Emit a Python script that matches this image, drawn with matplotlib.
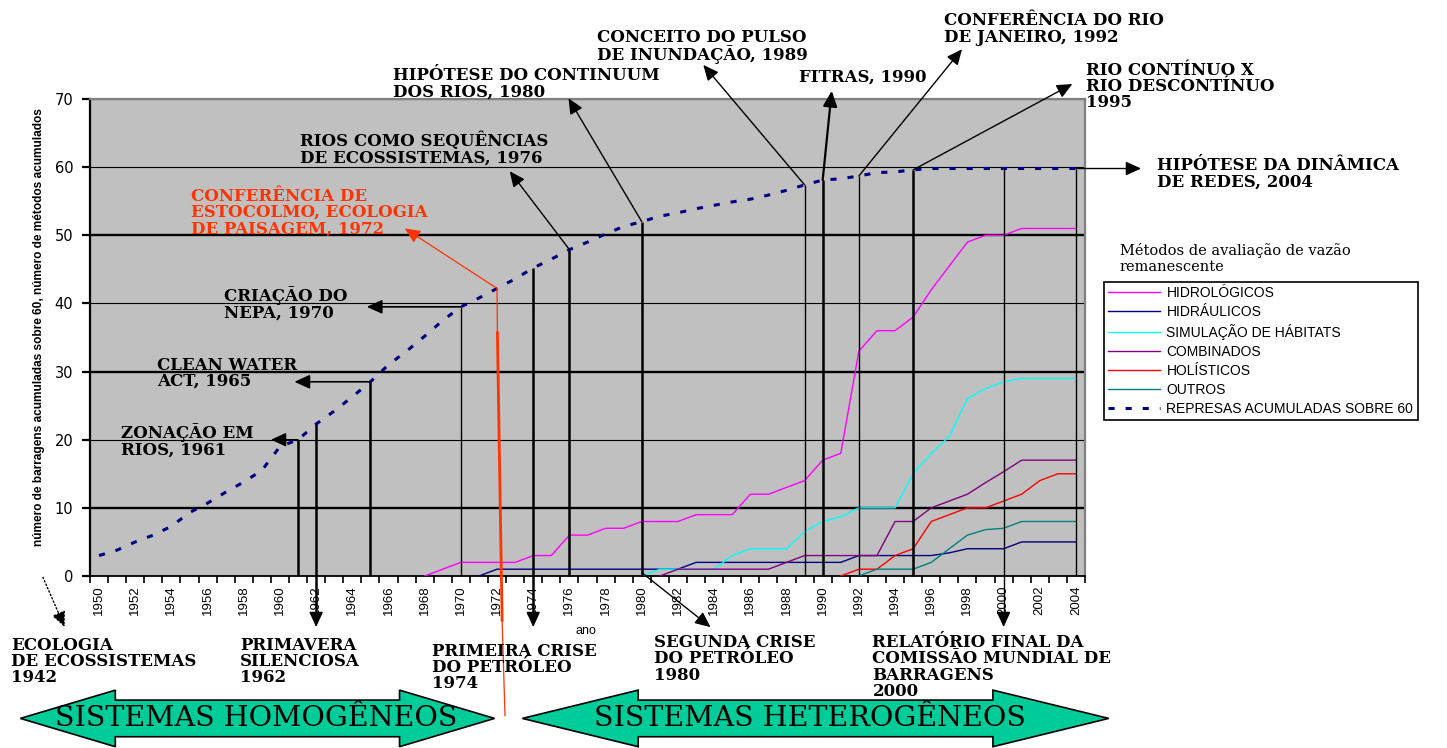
import numpy as np
import matplotlib
matplotlib.use('Agg')
import matplotlib.pyplot as plt
from matplotlib.patches import Polygon

# ---------------- data ----------------
years = list(range(1950, 2005))

dam_label = 'REPRESAS ACUMULADAS SOBRE 60'
dam_cum = [3.0, 3.8, 5.0, 6.0, 7.3, 9.3, 10.7, 12.3, 13.8, 15.5,
           19.0, 20.0, 22.3, 24.2, 26.3, 28.5, 31.0, 33.0, 35.2, 37.5,
           39.5, 40.8, 42.2, 43.6, 45.2, 46.5, 47.9, 49.0, 50.2, 51.3,
           52.0, 52.8, 53.3, 53.9, 54.4, 54.9, 55.3, 55.9, 56.6, 57.4,
           58.1, 58.3, 58.7, 59.2, 59.3, 59.6, 59.8, 59.8, 59.8, 59.8,
           59.8, 59.8, 59.8, 59.8, 59.8]

method_names = ['HIDROLÓGICOS', 'HIDRÁULICOS', 'SIMULAÇÃO DE HÁBITATS',
                'COMBINADOS', 'HOLÍSTICOS', 'OUTROS']
method_colors = ['#FF00FF', '#000080', '#00FFFF', '#800080', '#FF0000', '#008080']

hidrologicos_start = 1968
hidrologicos = [0, 1, 2, 2, 2, 2, 3, 3, 6, 6, 7, 7, 8, 8, 8, 9, 9, 9, 12, 12,
                13, 14, 17, 18, 33, 36, 36, 38, 42, 45.5, 49, 50, 50, 51, 51, 51, 51]
hidraulicos_start = 1971
hidraulicos = [0, 1, 1, 1, 1, 1, 1, 1, 1, 1, 1, 1, 2, 2, 2, 2, 2, 2, 2, 2,
               2, 3, 3, 3, 3, 3, 3.4, 4, 4, 4, 5, 5, 5, 5]
simulacao_start = 1980
simulacao = [0, 1, 1, 1, 1, 3, 4, 4, 4, 6.5, 8, 8.7, 10, 10, 10, 15, 18, 20.5,
             26, 27.5, 28.5, 29, 29, 29, 29]
combinados_start = 1981
combinados = [0, 1, 1, 1, 1, 1, 1, 2, 3, 3, 3, 3, 3, 8, 8, 10, 11, 12, 13.7,
              15.3, 17, 17, 17, 17]
holisticos_start = 1991
holisticos = [0, 1, 1, 3, 4, 8, 9, 10, 10, 11, 12, 14, 15, 15]
outros_start = 1992
outros = [0, 1, 1, 1, 2, 4, 6, 6.8, 7, 8, 8, 8, 8]

legend_title = 'Métodos de avaliação de vazão\nremanescente'
y_label = 'número de barragens acumuladas sobre 60, número de métodos acumulados'
x_label = 'ano'

top_labels = {
    1961: 'ZONAÇÃO EM\nRIOS, 1961',
    1965: 'CLEAN WATER\nACT, 1965',
    1970: 'CRIAÇÃO DO\nNEPA, 1970',
    1972: 'CONFERÊNCIA DE\nESTOCOLMO, ECOLOGIA\nDE PAISAGEM, 1972',
    1976: 'RIOS COMO SEQUÊNCIAS\nDE ECOSSISTEMAS, 1976',
    1980: 'HIPÓTESE DO CONTINUUM\nDOS RIOS, 1980',
    1989: 'CONCEITO DO PULSO\nDE INUNDAÇÃO, 1989',
    1990: 'FITRAS, 1990',
    1992: 'CONFERÊNCIA DO RIO\nDE JANEIRO, 1992',
    1995: 'RIO CONTÍNUO X\nRIO DESCONTÍNUO\n1995',
    2004: 'HIPÓTESE DA DINÂMICA\nDE REDES, 2004',
}
bottom_labels = {
    1942: 'ECOLOGIA\nDE ECOSSISTEMAS\n1942',
    1962: 'PRIMAVERA\nSILENCIOSA\n1962',
    1974: 'PRIMEIRA CRISE\nDO PETRÓLEO\n1974',
    1980: 'SEGUNDA CRISE\nDO PETRÓLEO\n1980',
    2000: 'RELATÓRIO FINAL DA\nCOMISSÃO MUNDIAL DE\nBARRAGENS\n2000',
}
period_labels = ['SISTEMAS HOMOGÊNEOS', 'SISTEMAS HETEROGÊNEOS']

# ---------------- figure ----------------
W, H = 1447, 748
fig = plt.figure(figsize=(W / 100, H / 100), dpi=100)
ax = fig.add_axes([90 / W, 1 - 576 / H, 995 / W, 477 / H])
ax.set_facecolor('#C0C0C0')
ax.set_xlim(1949.5, 2004.5)
ax.set_ylim(0, 70)

# grid
yt = list(range(0, 71, 10))
ax.set_yticks(yt)
ax.set_axisbelow(True)
ax.yaxis.grid(True, color='black', lw=0.8)
for gl, v in zip(ax.get_ygridlines(), yt):
    if v in (10, 30, 50):
        gl.set_linewidth(1.7)

for s in ('left', 'bottom'):
    ax.spines[s].set_color('black')
ax.spines['left'].set_linewidth(1.6)
ax.spines['bottom'].set_linewidth(1.3)
for s in ('top', 'right'):
    ax.spines[s].set_color('#808080')
    ax.spines[s].set_linewidth(1.6)

ax.tick_params(axis='y', direction='out', length=6, width=1.6, labelsize=10.5, pad=6)
ax.set_xticks(years[::2])
ax.set_xticklabels([str(y) for y in years[::2]], rotation=90, fontsize=9.5,
                   family='Liberation Sans')
ax.set_xticks(np.arange(1949.5, 2005, 1), minor=True)
ax.tick_params(axis='x', which='major', length=0, pad=7)
ax.tick_params(axis='x', which='minor', length=5, width=1.2, direction='out')

ax.set_ylabel(y_label, fontsize=8.6, family=['Liberation Sans Narrow', 'Liberation Sans'],
              weight='bold')
ax.yaxis.set_label_coords(-0.045, 0.521)
ax.set_xlabel(x_label, fontsize=9, family='Liberation Sans')
ax.xaxis.set_label_coords(0.4985, -0.103)

# ---------------- series ----------------
starts = [hidrologicos_start, hidraulicos_start, simulacao_start,
          combinados_start, holisticos_start, outros_start]
vals = [hidrologicos, hidraulicos, simulacao, combinados, holisticos, outros]
handles = []
for name, col, st, v in zip(method_names, method_colors, starts, vals):
    xs = list(range(st, st + len(v)))
    h, = ax.plot(xs, v, color=col, lw=1.0, zorder=3, label=name)
    handles.append(h)
hd, = ax.plot(years, dam_cum, color='#000080', lw=2.2, ls=(0, (2.0, 3.6)),
              zorder=4, label=dam_label)
handles.append(hd)


def dam_at(yr):
    return float(np.interp(yr, years, dam_cum))


def vline(yr, y0, y1, lw=1.8, color='black'):
    ax.plot([yr, yr], [y0, y1], color=color, lw=lw, clip_on=False, zorder=3,
            solid_capstyle='butt')


def arrow(x0, y0, x1, y1, color='black', lw=1.0, ls='-', ms=17):
    ax.annotate('', xy=(x1, y1), xytext=(x0, y0), annotation_clip=False,
                arrowprops=dict(arrowstyle='-|>,head_length=0.55,head_width=0.25',
                                mutation_scale=ms, color=color, lw=lw, ls=ls,
                                shrinkA=0, shrinkB=0), zorder=5)


def label(x, y, s, color='black', size=12):
    ax.text(x, y, s, ha='left', va='top', fontsize=size, family='DejaVu Serif',
            weight='bold', color=color, linespacing=0.95, clip_on=False, zorder=6)


# ---- top events ----
yv = dam_at(1961)
vline(1961, 0, yv, 1.8)
arrow(1961, yv, 1959.5, yv)
label(1951.2, 22.4, top_labels[1961])

yv = dam_at(1965)
vline(1965, 0, yv, 1.8)
arrow(1965, yv, 1960.8, yv, lw=1.2)
label(1953.2, 32.2, top_labels[1965])

yv = dam_at(1970)
vline(1970, 0, yv, 1.0)
arrow(1970, yv, 1964.8, yv, lw=1.2)
label(1956.9, 42.5, top_labels[1970])

red = '#FF3300'
yv = dam_at(1972)
ax.plot([1972.0, 1972.02], [yv, 35.7], color=red, lw=0.9, clip_on=False, zorder=5)
ax.plot([1972.02, 1972.28], [35.7, -6.5], color=red, lw=2.0, clip_on=False, zorder=5)
ax.plot([1972.28, 1972.44], [-6.5, -20.5], color=red, lw=0.9, clip_on=False, zorder=5)
arrow(1972, yv, 1966.9, 51.0, color=red, lw=0.9)
label(1955.1, 57.0, top_labels[1972], color=red)

yv = dam_at(1976)
vline(1976, 0, yv, 1.8)
arrow(1976, yv, 1972.7, 59.4)
label(1961.1, 65.2, top_labels[1976])

yv = dam_at(1980)
vline(1980, 0, yv, 1.8)
arrow(1980, yv, 1975.95, 70.1)
label(1966.25, 74.7, top_labels[1980])

yv = dam_at(1989)
vline(1989, 0, yv, 1.0)
arrow(1989, yv, 1983.4, 75.0)
label(1977.5, 80.3, top_labels[1989])

yv = dam_at(1990)
vline(1990, 0, yv, 1.8)
arrow(1990, yv, 1990.5, 71.2, lw=1.6)
label(1988.7, 74.5, top_labels[1990])

yv = dam_at(1992)
vline(1992, 0, yv, 1.0)
arrow(1992, yv, 1997.7, 77.3)
label(1996.7, 82.7, top_labels[1992])

yv = dam_at(1995)
vline(1995, 0, yv, 1.8)
arrow(1995, yv, 2003.8, 72.2)
label(2004.55, 75.5, top_labels[1995])

yv = dam_at(2004)
vline(2004, 0, yv, 1.0)
arrow(2004, yv, 2007.6, yv)
label(2008.5, 61.5, top_labels[2004])

# ---- bottom events ----
arrow_end = -7.5
arrow(1946.9, -0.2, 1948.1, arrow_end, ls=':')
label(1945.15, -8.9, bottom_labels[1942])

vline(1962, dam_at(1962), arrow_end + 1.5, 1.8)
arrow(1962, arrow_end + 2, 1962, arrow_end)
label(1957.8, -8.9, bottom_labels[1962])

vline(1974, dam_at(1974), arrow_end + 1.5, 1.8)
arrow(1974, arrow_end + 2, 1974, arrow_end)
label(1968.4, -9.8, bottom_labels[1974])

arrow(1980, 0.5, 1983.8, arrow_end)
label(1980.7, -8.5, bottom_labels[1980])

vline(2000, dam_at(2000), arrow_end + 1.5, 1.0)
arrow(2000, arrow_end + 2, 2000, arrow_end)
label(1992.75, -8.5, bottom_labels[2000])


# ---- period arrows ----
def double_arrow(xl, xr, hl, yc=-20.9, bh=2.69, hh=4.15):
    pts = [(xl, yc), (xl + hl, yc + hh), (xl + hl, yc + bh), (xr - hl, yc + bh),
           (xr - hl, yc + hh), (xr, yc), (xr - hl, yc - hh), (xr - hl, yc - bh),
           (xl + hl, yc - bh), (xl + hl, yc - hh)]
    p = Polygon(pts, closed=True, fc='#00CC99', ec='black', lw=1.2,
                clip_on=False, zorder=2)
    ax.add_patch(p)


double_arrow(1945.65, 1971.86, 5.25)
double_arrow(1973.40, 2005.81, 6.4)
ax.text(1958.7, -20.9, period_labels[0], ha='center', va='center', fontsize=20.5,
        family='DejaVu Serif', clip_on=False, zorder=6)
ax.text(1989.3, -20.9, period_labels[1], ha='center', va='center', fontsize=20.5,
        family='DejaVu Serif', clip_on=False, zorder=6)

# ---------------- legend ----------------
fig.text(1120 / W, 1 - 243 / H, legend_title, ha='left', va='top', fontsize=10.5,
         family='DejaVu Serif', linespacing=1.15)
leg = fig.legend(handles=handles, loc='upper left', bbox_to_anchor=(1104 / W, 1 - 282 / H),
                 frameon=True, fancybox=False, edgecolor='black', framealpha=1,
                 borderpad=0.3, labelspacing=0.36, handlelength=3.7, handletextpad=0.5,
                 borderaxespad=0, prop={'family': 'Liberation Sans', 'size': 10})
leg.get_frame().set_linewidth(1.2)

fig.savefig('out.png', dpi=100)
